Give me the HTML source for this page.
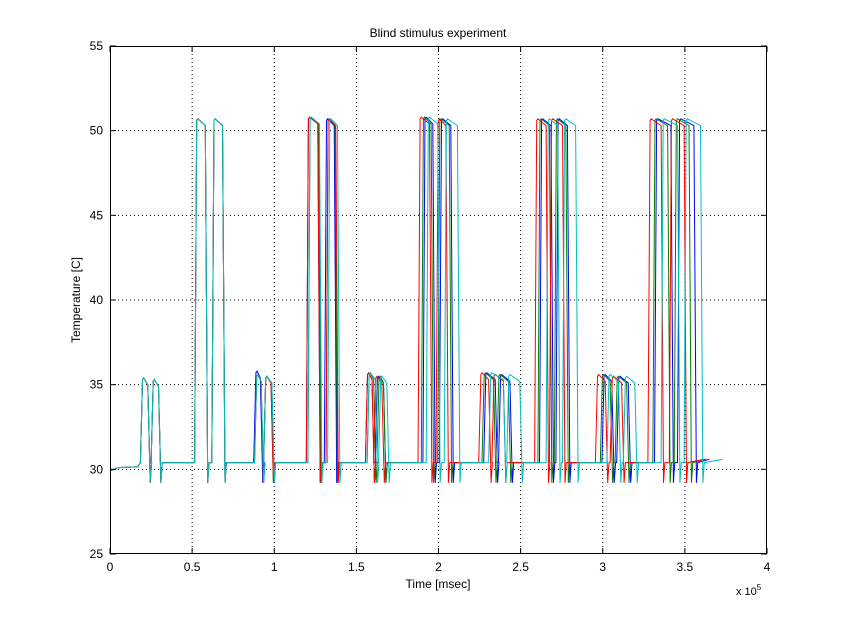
<!DOCTYPE html>
<html><head><meta charset="utf-8"><style>
body{margin:0;background:#fff;}
svg{display:block;font-family:"Liberation Sans",sans-serif;}
</style></head><body>
<svg id="chart" width="846" height="624">
<rect x="0" y="0" width="846" height="624" fill="#fff"/>
<rect x="110" y="46" width="657" height="508" fill="#fff" stroke="none"/>
<g id="grid"></g><g id="series"></g><g id="axes"></g>
<text x="438" y="37" font-size="12" text-anchor="middle">Blind stimulus experiment</text>
<text x="438" y="588" font-size="12" text-anchor="middle">Time [msec]</text>
<text transform="translate(80,300) rotate(-90)" font-size="12" text-anchor="middle">Temperature [C]</text>
<text x="736" y="595" font-size="11">x 10<tspan dy="-5" font-size="8">5</tspan></text>
</svg>
<script>
const xTicks=[0,0.5,1,1.5,2,2.5,3,3.5,4];
const yTicks=[25,30,35,40,45,50,55];
const baseline=30.4;
const dipLevel=29.2;
// pulses per series: [rise (k ms), fall (k ms), level]
const bluePulses=[[19,23.5,35.3],[25.5,30,35.2],[52,58.5,50.6],[62.5,69,50.6],[88,92,35.7],[94,99,35.4],[120,127,50.7],[131,137,50.6],[156,160,35.6],[162,167,35.4],[191,197,50.7],[201,208,50.6],[228,235,35.6],[237,244,35.5],[262,269,50.6],[272,279,50.6],[300,306,35.5],[309,316,35.4],[332,342,50.6],[346,356,50.6]];
const greenPulses=[[19,23.5,35.3],[25.5,30,35.2],[52,58.5,50.6],[62.5,69,50.6],[88.5,92.5,35.5],[94,98.5,35.4],[121,127.5,50.7],[132,137.5,50.6],[157,161,35.6],[163,167,35.4],[190,196,50.7],[200,207,50.6],[227,234,35.6],[236,243,35.5],[261,268,50.6],[271,278,50.6],[299,305,35.5],[308,315,35.4],[331,340,50.6],[344,353,50.6]];
const redPulses=[[19,23.5,35.3],[25.5,30,35.2],[52,58.5,50.6],[62.5,69,50.6],[88.5,92.5,35.5],[94,98.5,35.4],[120,127,50.7],[132,138,50.6],[156,160,35.6],[161,166,35.4],[188,195,50.7],[199,205,50.6],[225,231,35.6],[233,240,35.5],[259,266,50.6],[268,276,50.6],[296,302,35.5],[305,312,35.4],[328,336,50.6],[341,350,50.6]];
const cyanPulses=[[19,23.5,35.3],[25.5,30,35.2],[52,58.5,50.6],[62.5,69,50.6],[88.5,92.5,35.5],[94,99,35.4],[121,128,50.7],[133,139,50.6],[157,162,35.6],[164,169,35.4],[193,200,50.7],[204,212,50.6],[231,240,35.6],[242,250,35.5],[266,273,50.6],[276,284,50.6],[303,310,35.5],[313,320,35.4],[336,346,50.6],[350,360,50.6]];
const seriesEnds=[365,363,362,373];
const seriesColors=["#0000ff","#008000","#ff0000","#00bfbf"];
const X=k=>110+k/400*657;
const Y=t=>554-(t-25)*508/30;
const NS="http://www.w3.org/2000/svg";
function mk(tag,attrs,parent){const e=document.createElementNS(NS,tag);for(const k in attrs)e.setAttribute(k,attrs[k]);parent.appendChild(e);return e;}
const grid=document.getElementById('grid'),axes=document.getElementById('axes'),ser=document.getElementById('series');
xTicks.forEach(v=>{const x=X(v*100);
 if(v>0&&v<4){const l=mk('line',{x1:x,x2:x,y1:46,y2:554,stroke:'#000','stroke-dasharray':'1,3','stroke-width':1},grid);
 
 }
 mk('line',{x1:x,x2:x,y1:554,y2:548,stroke:'#000'},axes);mk('line',{x1:x,x2:x,y1:46,y2:52,stroke:'#000'},axes);
 const t=mk('text',{x:x,y:571,'font-size':12,'text-anchor':'middle'},axes);t.textContent=String(v);
 
 });
yTicks.forEach(v=>{const y=Y(v);
 if(v>25&&v<55){const l=mk('line',{x1:110,x2:767,y1:y,y2:y,stroke:'#000','stroke-dasharray':'1,3','stroke-width':1},grid);
 
 }
 mk('line',{x1:110,x2:116,y1:y,y2:y,stroke:'#000'},axes);mk('line',{x1:767,x2:761,y1:y,y2:y,stroke:'#000'},axes);
 const t=mk('text',{x:103,y:y+4,'font-size':12,'text-anchor':'end'},axes);t.textContent=String(v);
 
 });
const frame=mk('rect',{x:110.5,y:46.5,width:656,height:507,fill:'none',stroke:'#000'},axes);


[bluePulses,greenPulses,redPulses,cyanPulses].forEach((pulses,i)=>{
 const pts=[[0,29.9],[5,30.1],[17,30.15]];
 pulses.forEach(p=>{
  const [r,f,lv]=p;
  pts.push([r-0.5,baseline],[r+0.8,lv],[r+1.5,lv+0.1],[f-0.5,lv-0.3],[f+1,dipLevel],[f+1.8,baseline]);
 });
 pts.push([seriesEnds[i],30.6]);
 const d=pts.map((p,j)=>(j?'L':'M')+X(p[0]).toFixed(1)+','+Y(p[1]).toFixed(1)).join('');
 const path=mk('path',{d:d,fill:'none',stroke:seriesColors[i],'stroke-width':1},ser);
 
 
});
</script>
</body></html>
